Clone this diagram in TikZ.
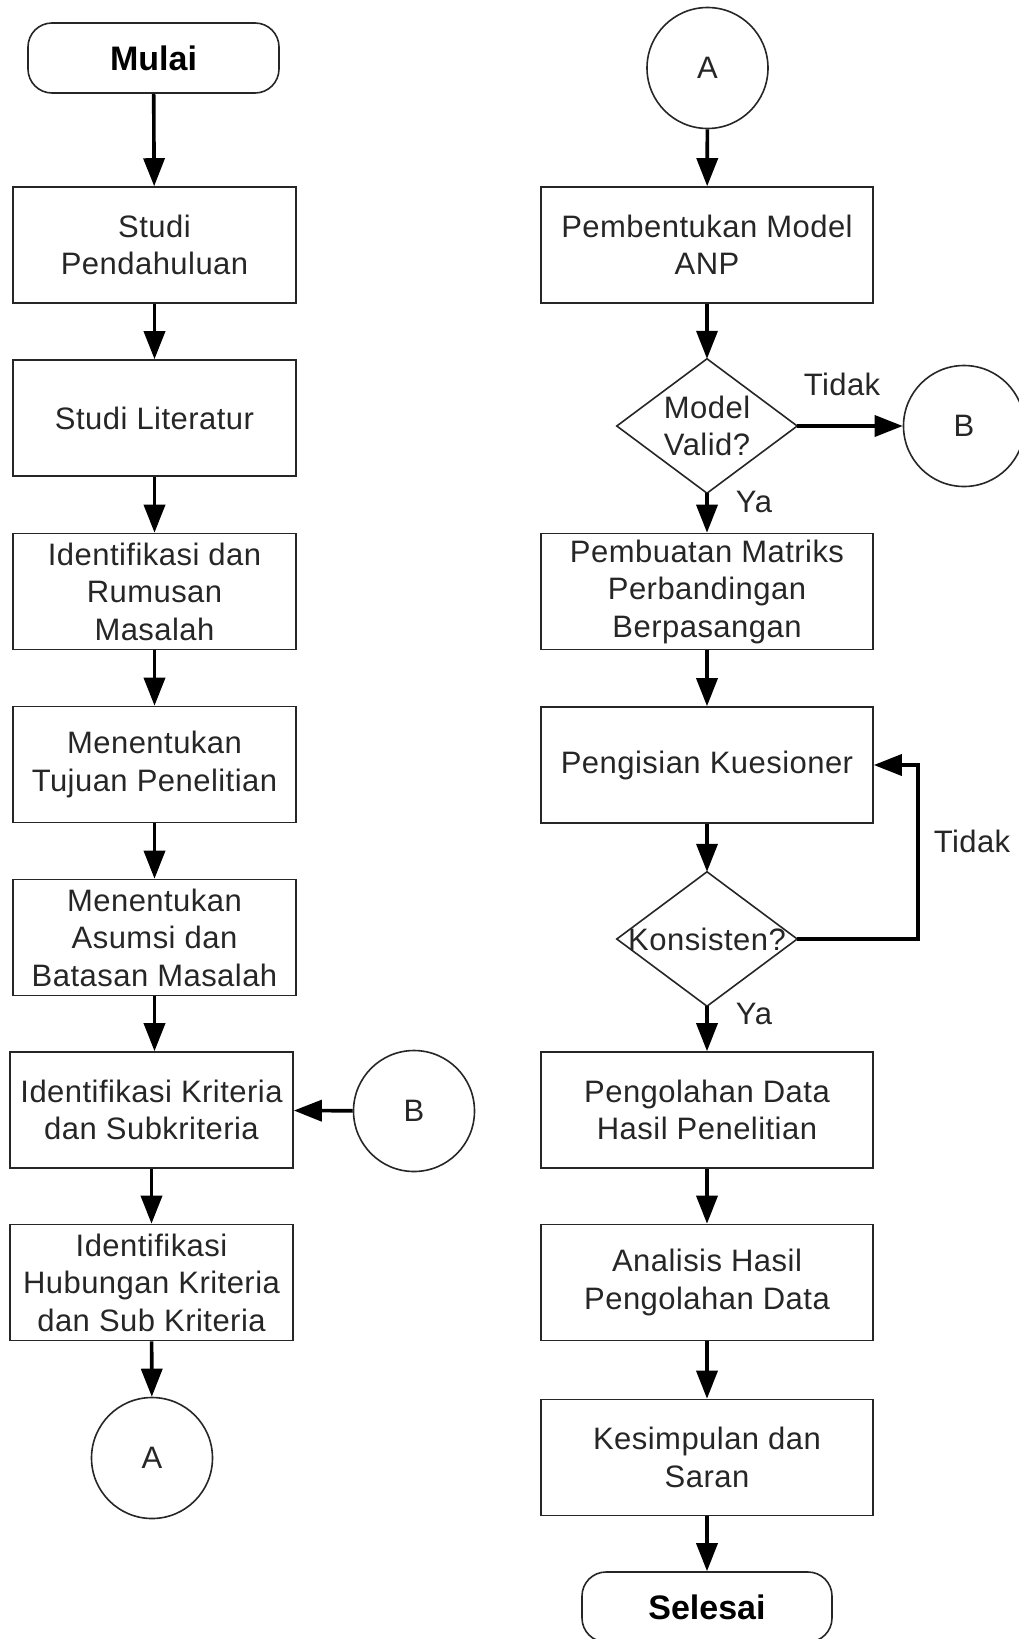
\documentclass[tikz,border=0pt]{standalone}
\usepackage{fontspec}
\setmainfont[LetterSpace=1.5]{Liberation Sans}
\newfontfamily\termfont{Liberation Sans}
\usetikzlibrary{arrows.meta}
\tikzset{
  x=1pt, y=-1pt,
  base/.style={font=\fontsize{31}{37.5}\selectfont, align=center, inner sep=0pt, text=black!85},
  box/.style={base, draw=black!85, line width=1.6pt, minimum width=283pt, minimum height=116pt},
  rbox/.style={base, draw=black!85, line width=1.6pt, minimum width=332pt, minimum height=116pt},
  term/.style={base, draw=black!85, line width=1.6pt, rounded corners=24pt, minimum height=70pt, text=black, font=\termfont\fontsize{34}{40}\selectfont\bfseries},
  conn/.style={base, circle, draw=black!85, line width=1.6pt, minimum size=121pt},
  dec/.style={base, minimum width=180pt, minimum height=134pt},
  decline/.style={draw=black!85, line width=1.6pt},
  arr/.style={line width=3.6pt, -{Triangle[length=28pt,width=21pt]}},
  lbl/.style={base}
}
\begin{document}
\begin{tikzpicture}
\useasboundingbox (0,0) rectangle (1019,1639);
% left column
\node[term, minimum width=251pt] (mulai) at (153.5,58) {Mulai};
\node[box] (s1) at (154.5,245) {Studi\\Pendahuluan};
\node[box] (s2) at (154.5,418) {Studi Literatur};
\node[box] (s3) at (154.5,591.5) {Identifikasi dan\\Rumusan\\Masalah};
\node[box] (s4) at (154.5,764.5) {Menentukan\\Tujuan Penelitian};
\node[box] (s5) at (154.5,937.5) {Menentukan\\Asumsi dan\\Batasan Masalah};
\node[box] (s6) at (151.5,1110) {Identifikasi Kriteria\\dan Subkriteria};
\node[box] (s7) at (151.5,1282.5) {Identifikasi\\Hubungan Kriteria\\dan Sub Kriteria};
\node[conn] (cA) at (152,1458) {A};
\node[conn] (cBl) at (414,1111) {B};
% right column
\node[conn] (cAt) at (707.5,68) {A};
\node[rbox] (r1) at (707,245) {Pembentukan Model\\ANP};
\node[dec] (d1) at (707,426) {Model\\Valid?};
\draw[decline] (d1.north) -- (d1.east) -- (d1.south) -- (d1.west) -- cycle;
\node[conn] (cBr) at (964,426) {B};
\node[rbox] (r2) at (707,591.5) {Pembuatan Matriks\\Perbandingan\\Berpasangan};
\node[rbox] (r3) at (707,765) {Pengisian Kuesioner};
\node[dec] (d2) at (707,939) {Konsisten?};
\draw[decline] (d2.north) -- (d2.east) -- (d2.south) -- (d2.west) -- cycle;
\node[rbox] (r4) at (707,1110) {Pengolahan Data\\Hasil Penelitian};
\node[rbox] (r5) at (707,1282.5) {Analisis Hasil\\Pengolahan Data};
\node[rbox] (r6) at (707,1457.5) {Kesimpulan dan\\Saran};
\node[term, minimum width=250pt] (selesai) at (707,1607) {Selesai};
% labels
\node[lbl] (t1) at (842,384) {Tidak};
\node[lbl] (y1) at (754,502) {Ya};
\node[lbl] (t2) at (972,841) {Tidak};
\node[lbl] (y2) at (754,1014) {Ya};
% connectors left
\draw[arr] (mulai) -- (s1);
\draw[arr] (s1) -- (s2);
\draw[arr] (s2) -- (s3);
\draw[arr] (s3) -- (s4);
\draw[arr] (s4) -- (s5);
\draw[arr] (s5.south) -- (s5.south |- s6.north);
\draw[arr] (s6) -- (s7);
\draw[arr] (s7) -- (cA);
\draw[arr] (cBl) -- (s6);
% connectors right
\draw[arr] (cAt) -- (r1);
\draw[arr] (r1) -- (d1.north);
\draw[arr] (d1.east) -- (cBr);
\draw[arr] (d1.south) -- (r2);
\draw[arr] (r2) -- (r3);
\draw[arr] (r3) -- (d2.north);
\coordinate (lp) at (918,939);
\draw[arr] (d2.east) -- (lp) |- (r3.east);
\draw[arr] (d2.south) -- (r4);
\draw[arr] (r4) -- (r5);
\draw[arr] (r5) -- (r6);
\draw[arr] (r6) -- (selesai);
\end{tikzpicture}
\end{document}
